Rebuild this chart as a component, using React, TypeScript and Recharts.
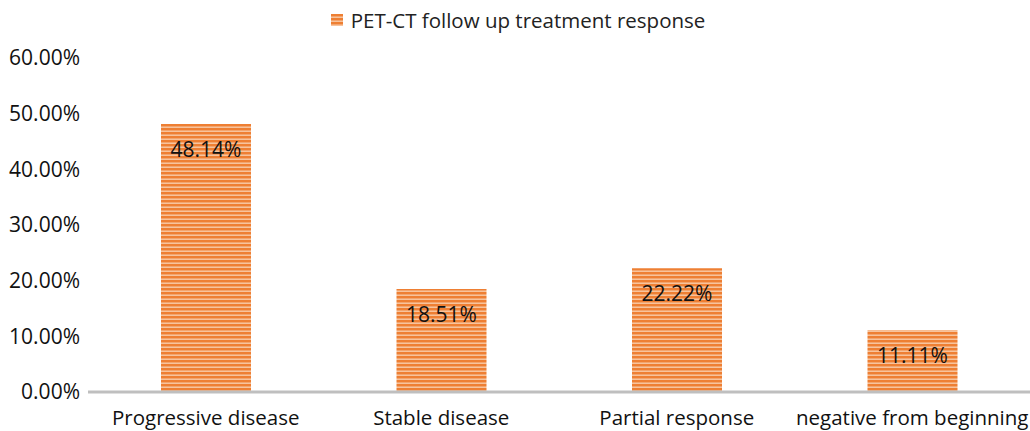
import { Bar, BarChart, LabelList, Legend, XAxis, YAxis } from 'recharts';

document.body.style.margin = '0';

const categories = ['Progressive disease', 'Stable disease', 'Partial response', 'negative from beginning'];
const responseValues = [48.14, 18.51, 22.22, 11.11];
const yTicks = [0, 10, 20, 30, 40, 50, 60];
const seriesName = 'PET-CT follow up treatment response';

const data = categories.map((name, i) => ({ name, value: responseValues[i] }));

const FONT = 'Open Sans, Noto Sans, sans-serif';

function LegendContent() {
  return (
    <div
      style={{
        display: 'flex',
        justifyContent: 'center',
        alignItems: 'center',
        height: 28,
        fontFamily: FONT,
        fontSize: 20.5,
        color: '#222',
        paddingLeft: 6,
      }}
    >
      <svg width={12} height={12} style={{ marginRight: 8 }}>
        <rect width={12} height={12} fill="url(#stripes)" />
      </svg>
      <span>{seriesName}</span>
    </div>
  );
}

export default function App() {
  return (
    <BarChart
      width={1030}
      height={431}
      data={data}
      margin={{ top: 30, right: 0, bottom: 0, left: 0 }}
      barCategoryGap={0}
    >
      <defs>
        <pattern id="stripes" width={8} height={4} patternUnits="userSpaceOnUse">
          <rect width={8} height={4} fill="#EE7F33" />
          <rect y={2.5} width={8} height={1.4} fill="#F9CBA8" />
        </pattern>
      </defs>
      <Legend verticalAlign="top" content={<LegendContent />} wrapperStyle={{ top: 6, left: 0, width: 1030 }} />
      <XAxis
        dataKey="name"
        height={39}
        tickLine={false}
        tickSize={0}
        tickMargin={18}
        interval={0}
        axisLine={{ stroke: '#BFBFBF', strokeWidth: 3 }}
        tick={{ fontFamily: FONT, fontSize: 20.5, fill: '#111' }}
      />
      <YAxis
        width={88}
        domain={[0, 60]}
        ticks={yTicks}
        axisLine={false}
        tickLine={false}
        tickSize={0}
        tickMargin={8}
        tickFormatter={(v: number) => `${v.toFixed(2)}%`}
        tick={{ fontFamily: FONT, fontSize: 21, fill: '#111' }}
      />
      <Bar dataKey="value" fill="url(#stripes)" barSize={90} isAnimationActive={false}>
        <LabelList
          dataKey="value"
          position="insideTop"
          offset={18}
          formatter={(v: number) => `${v.toFixed(2)}%`}
          style={{ fontFamily: FONT, fontSize: 21, fill: '#111' }}
        />
      </Bar>
    </BarChart>
  );
}
